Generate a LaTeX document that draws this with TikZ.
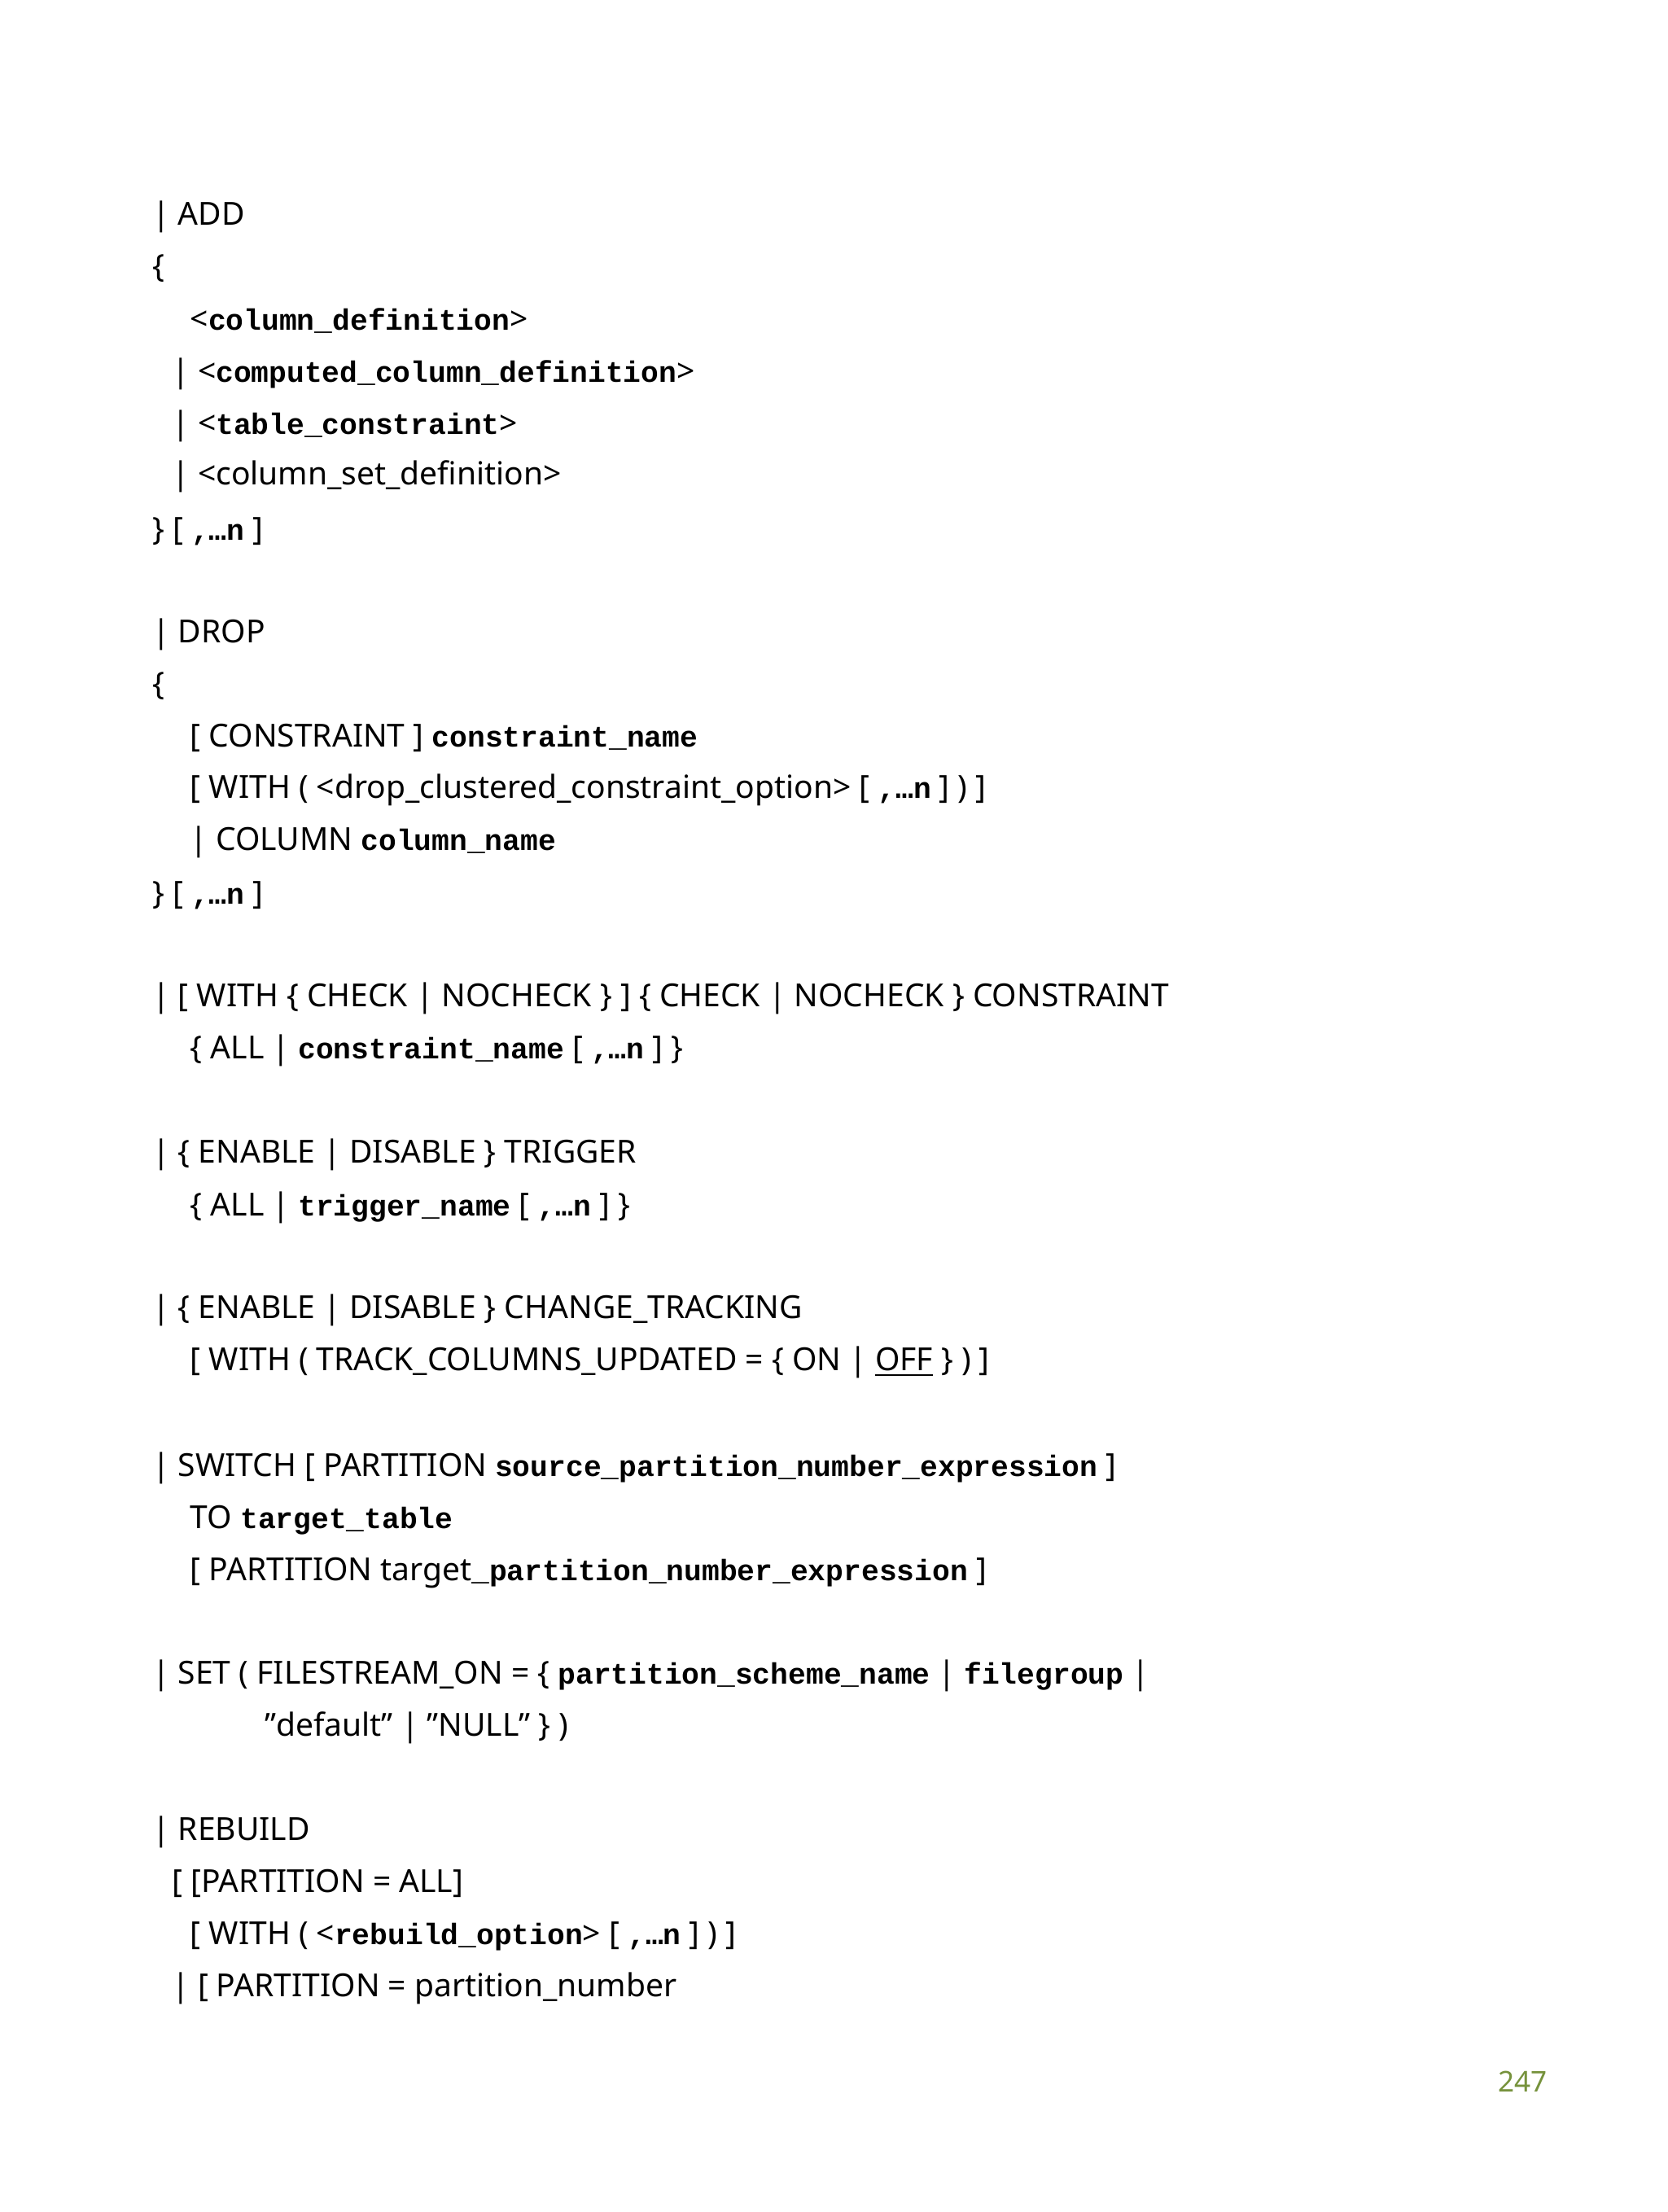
\documentclass[tikz,border=0pt]{standalone}
\usepackage{fontspec}
\setmainfont{Noto Sans}
\newfontfamily\monob{Liberation Mono}[Scale=0.93,BoldFont={Liberation Mono Bold}]
\newcommand{\m}[1]{{\monob\bfseries #1}}
\newcommand{\qt}{\textbf{\char"22}}
\definecolor{pgnum}{RGB}{118,146,60}
\begin{document}
\begin{tikzpicture}[x=0.01727cm,y=-0.01727cm,
  ln/.style={anchor=base west,inner sep=0pt,font=\fontsize{11.1pt}{13pt}\selectfont}]
\useasboundingbox (0,0) rectangle (1186,1573.3);
\newcommand{\Ln}[4]{\node[ln] (#1) at (#2,#3+9) {#4};}
\Ln{a1}{108}{151}{| ADD}
\Ln{a2}{108}{188}{\{}
\Ln{a3}{135}{226}{<\m{column\_definition}>}
\Ln{a4}{122}{263}{| <\m{computed\_column\_definition}>}
\Ln{a5}{122}{300}{| <\m{table\_constraint}>}
\Ln{a6}{122}{336}{| <column\_set\_definition>}
\Ln{a7}{108}{375}{\} [ \m{,…n} ]}
\Ln{b1}{108}{448}{| DROP}
\Ln{b2}{108}{485}{\{}
\Ln{b3}{135}{522}{[ CONSTRAINT ] \m{constraint\_name}}
\Ln{b4}{135}{559}{[ WITH \textbf{(} <drop\_clustered\_constraint\_option> [ \m{,…n} ] \textbf{)} ]}
\Ln{b5}{135}{596}{| COLUMN \m{column\_name}}
\Ln{b6}{108}{634}{\} [ \m{,…n} ]}
\Ln{c1}{108}{707}{| [ WITH \{ CHECK | NOCHECK \} ] \{ CHECK | NOCHECK \} CONSTRAINT}
\Ln{c2}{135}{744}{\{ ALL | \m{constraint\_name} [ \m{,…n} ] \}}
\Ln{d1}{108}{818}{| \{ ENABLE | DISABLE \} TRIGGER}
\Ln{d2}{135}{856}{\{ ALL | \m{trigger\_name} [ \m{,…n} ] \}}
\Ln{e1}{108}{929}{| \{ ENABLE | DISABLE \} CHANGE\_TRACKING}
\Ln{e2}{135}{966}{[ WITH \textbf{(} TRACK\_COLUMNS\_UPDATED \textbf{=} \{ ON | \underline{OFF} \} \textbf{)} ]}
\Ln{f1}{108}{1041}{| SWITCH [ PARTITION \m{source\_partition\_number\_expression} ]}
\Ln{f2}{135}{1078}{TO \m{target\_table}}
\Ln{f3}{135}{1115}{[ PARTITION target\m{\_partition\_number\_expression} ]}
\Ln{g1}{108}{1189}{| SET \textbf{(} FILESTREAM\_ON \textbf{=} \{ \m{partition\_scheme\_name} | \m{filegroup} |}
\Ln{g2}{188}{1226}{\qt default\qt\ | \qt NULL\qt\ \} \textbf{)}}
\Ln{h1}{108}{1300}{| REBUILD}
\Ln{h2}{122}{1337}{[ [PARTITION = ALL]}
\Ln{h3}{135}{1374}{[ WITH \textbf{(} <\m{rebuild\_option}> [ \m{,…n} ] \textbf{)} ]}
\Ln{h4}{122}{1411}{| [ PARTITION = partition\_number}
\node[ln,anchor=base east,text=pgnum,font=\fontsize{10pt}{12pt}\selectfont] (pg) at (1101,1488) {247};
\end{tikzpicture}
\end{document}
